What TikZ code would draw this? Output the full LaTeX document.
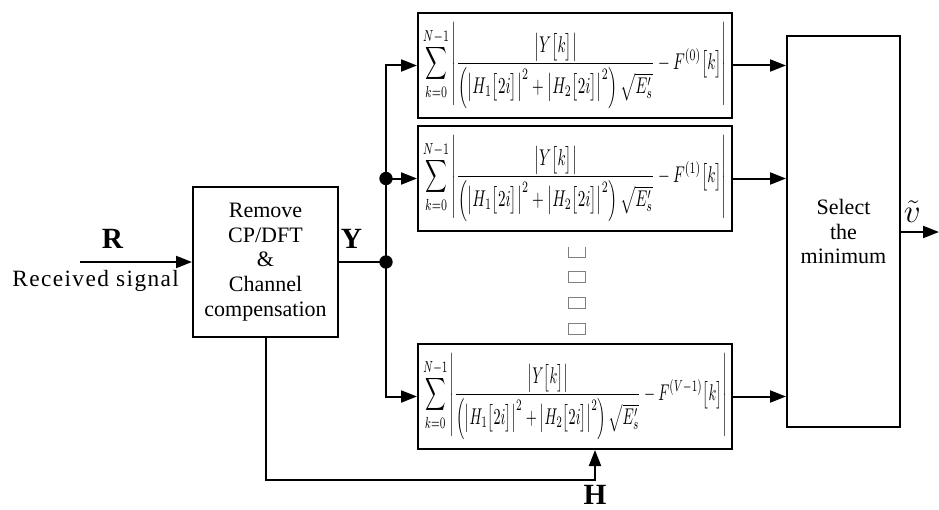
\documentclass[tikz,border=0pt]{standalone}
\usepackage{mathtools}
\usepackage{graphicx}
\usepackage[no-math]{fontspec}
\setmainfont{Liberation Serif}
\usepackage{tikz}
\usetikzlibrary{positioning,arrows.meta}

\newcommand{\metric}[1]{\resizebox*{228pt}{64pt}{$\displaystyle\sum_{k=0}^{N-1}\left|\frac{\left|Y\bigl[k\bigr]\right|}{\left(\left|H_1\bigl[2i\bigr]\right|^2+\left|H_2\bigl[2i\bigr]\right|^2\right)\sqrt{E'_s}}-F^{(#1)}\bigl[k\bigr]\right|$}}

\begin{document}
\begin{tikzpicture}[x = 0.75pt, y = -0.75pt, line width = 1.5pt,
  >={Triangle[length = 12pt, width = 9pt]},
  blk/.style = {draw, shape = rectangle, inner sep = 0pt, align = center, font = \fontsize{16.5}{18.6}\selectfont},
  metricbox/.style = {draw, shape = rectangle, inner sep = 0pt, minimum width = 235.5pt, minimum height = 78.75pt},
  junc/.style = {circle, fill, inner sep = 0pt, minimum size = 10pt},
  biglabel/.style = {font = \fontsize{22}{24}\selectfont\bfseries}]
\useasboundingbox (0,0) rectangle (939,510);

% receiver front end
\node[blk, minimum width = 108.75pt, minimum height = 112.5pt] (1) at (265.5,262) {Remove\\CP/DFT\\\&\\Channel\\compensation};
\coordinate (0) at (80,262);

% the V metric blocks
\node[metricbox] (10) at (575,65.5) {\metric{0}};
\node[metricbox] (11) at (575,178.5) {\metric{1}};
\node[metricbox] (12) at (575,396.5) {\metric{V-1}};

% decision
\node[blk, minimum width = 84.75pt, minimum height = 293.25pt] (20) at (843.5,231.5) {Select\\the\\minimum};
\coordinate (21) at (939,232);

% bus
\node[junc] (2) at (386,262) {};
\node[junc] (3) at (2 |- 11.west) {};
\coordinate (4) at (595,480);

\draw[->] (0) -- (1.west);
\draw (1.east) -- (2.center);
\draw[->] (2.center) |- (10.west);
\draw[->] (3.center) -- (11.west);
\draw[->] (2.center) |- (12.west);
\draw[->] (10.east) -- (10.east -| 20.west);
\draw[->] (11.east) -- (11.east -| 20.west);
\draw[->] (12.east) -- (12.east -| 20.west);
\draw[->] (20.east |- 21) -- (21);
\draw[->] (1.south) |- (4) -- (4 |- 12.south);

% missing glyphs between the blocks
\foreach \yy in {277,303,329}
  \draw[gray, line width = 0.8pt] (568.5,\yy-5.5) rectangle (585.5,\yy+5.5);
\draw[gray, line width = 0.8pt] (568.5,247) -- (568.5,257.5) -- (585.5,257.5) -- (585.5,247);

\begin{scope}[nodes = {draw = none}]
\path (0) -- (1.west) node [pos = 0.29, above = 6pt, biglabel] {R};
\path (0) -- (1.west) node [pos = 0.14, below = 2pt, font = \fontsize{17.5}{18}\selectfont\addfontfeature{LetterSpace = 6}] {Received signal};
\path (1.east) -- (2) node [pos = 0.32, above = 6pt, biglabel] {Y};
\path (4) -- (4 |- 12.south) node [at start, below = 0pt, biglabel] {H};
\path (20.east |- 21) -- (21) node [pos = 0.3, above = 3pt, font = \fontsize{26}{28}\selectfont] {$\tilde{v}$};
\end{scope}
\end{tikzpicture}
\end{document}
